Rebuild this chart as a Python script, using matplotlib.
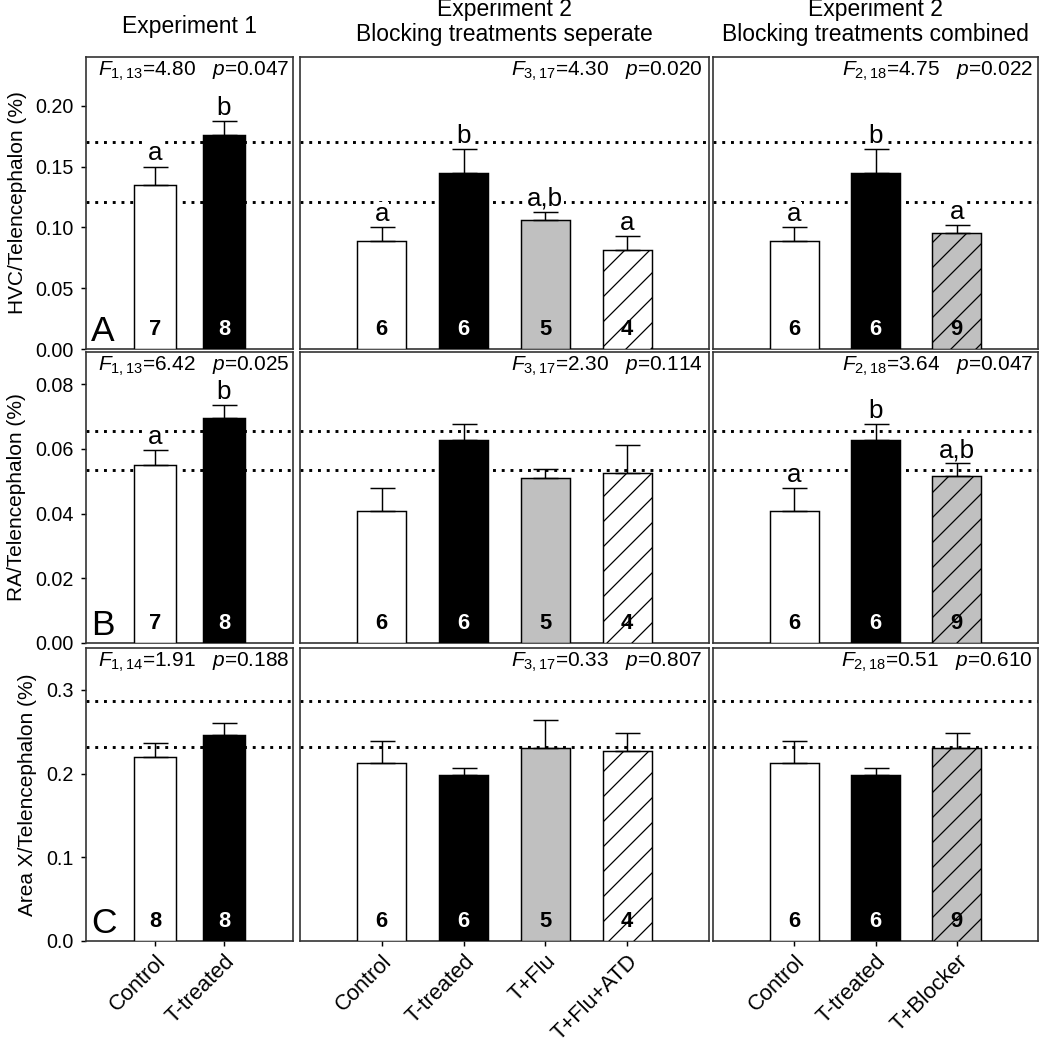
import numpy as np
import matplotlib
matplotlib.use("Agg")
import matplotlib.pyplot as plt
import matplotlib.transforms as mtransforms

plt.rcParams['font.family'] = 'Liberation Sans'
plt.rcParams['mathtext.fontset'] = 'custom'
plt.rcParams['mathtext.rm'] = 'Liberation Sans'
plt.rcParams['mathtext.it'] = 'Liberation Sans:italic'
plt.rcParams['hatch.linewidth'] = 0.6

# ---- groups (one list per column) ----
exp1_groups = ["Control", "T-treated"]
sep_groups = ["Control", "T-treated", "T+Flu", "T+Flu+ATD"]
comb_groups = ["Control", "T-treated", "T+Blocker"]

col_titles = [["Experiment 1"],
              ["Experiment 2", "Blocking treatments seperate"],
              ["Experiment 2", "Blocking treatments combined"]]

row_letters = ["A", "B", "C"]
row_ylabels = ["HVC/Telencephalon (%)", "RA/Telencephalon (%)",
               "Area X/Telencephalon (%)"]

# ---- HVC ----
hvc_exp1 = [0.135, 0.176]
hvc_exp1_se = [0.015, 0.011]
hvc_sep = [0.0885, 0.145, 0.106, 0.081]
hvc_sep_se = [0.0115, 0.019, 0.007, 0.012]
hvc_comb = [0.0885, 0.145, 0.095]
hvc_comb_se = [0.0115, 0.019, 0.007]
hvc_ref = [0.170, 0.121]

# ---- RA ----
ra_exp1 = [0.0552, 0.0697]
ra_exp1_se = [0.0044, 0.0040]
ra_sep = [0.0408, 0.0627, 0.0510, 0.0525]
ra_sep_se = [0.0070, 0.0050, 0.0027, 0.0086]
ra_comb = [0.0408, 0.0627, 0.0516]
ra_comb_se = [0.0070, 0.0050, 0.0040]
ra_ref = [0.0655, 0.0535]

# ---- Area X ----
x_exp1 = [0.220, 0.246]
x_exp1_se = [0.016, 0.015]
x_sep = [0.213, 0.198, 0.230, 0.227]
x_sep_se = [0.026, 0.009, 0.034, 0.022]
x_comb = [0.213, 0.198, 0.230]
x_comb_se = [0.026, 0.009, 0.019]
x_ref = [0.287, 0.232]

# ---- sample sizes ----
n_exp1 = [[7, 8], [7, 8], [8, 8]]
n_sep = [6, 6, 5, 4]
n_comb = [6, 6, 9]

# ---- post-hoc letters ----
hvc_letters = [["a", "b"], ["a", "b", "a,b", "a"], ["a", "b", "a"]]
ra_letters = [["a", "b"], [], ["a", "b", "a,b"]]
x_letters = [[], [], []]

# ---- ANOVA results ----
stats = [
    [(1, 13, "4.80", "0.047"), (3, 17, "4.30", "0.020"), (2, 18, "4.75", "0.022")],
    [(1, 13, "6.42", "0.025"), (3, 17, "2.30", "0.114"), (2, 18, "3.64", "0.047")],
    [(1, 14, "1.91", "0.188"), (3, 17, "0.33", "0.807"), (2, 18, "0.51", "0.610")],
]

# ---- bar styles ----
fills = {"Control": "white", "T-treated": "black", "T+Flu": "#c0c0c0",
         "T+Flu+ATD": "white", "T+Blocker": "#c0c0c0"}
hatches = {"T+Flu+ATD": "//", "T+Blocker": "//"}

groups = [exp1_groups, sep_groups, comb_groups]
values = [[hvc_exp1, hvc_sep, hvc_comb], [ra_exp1, ra_sep, ra_comb],
          [x_exp1, x_sep, x_comb]]
errors = [[hvc_exp1_se, hvc_sep_se, hvc_comb_se],
          [ra_exp1_se, ra_sep_se, ra_comb_se],
          [x_exp1_se, x_sep_se, x_comb_se]]
refs = [hvc_ref, ra_ref, x_ref]
letters = [hvc_letters, ra_letters, x_letters]
ns = [[n_exp1[r], n_sep, n_comb] for r in range(3)]

ylims = [0.24, 0.09, 0.35]
yticks = [np.arange(0, 0.201, 0.05), np.arange(0, 0.081, 0.02),
          np.arange(0, 0.31, 0.1)]
yfmt = ["%.2f", "%.2f", "%.1f"]

W, H = 1041, 1050
DPI = 150
fig = plt.figure(figsize=(W / DPI, H / DPI), dpi=DPI, facecolor="white")

col_px = [(86, 293), (300, 709), (713, 1038)]
row_px = [(57, 349), (352, 643), (648, 941)]

def draw_panel(ax, r, c):
    grp = groups[c]
    xs = np.arange(1, len(grp) + 1)
    vals = values[r][c]
    se = errors[r][c]
    for y in refs[r]:
        ax.axhline(y, color="black", linestyle=(0, (1, 2)), lw=1.4,
                   dash_capstyle="butt", zorder=1)
    ax.errorbar(xs, vals, yerr=[np.zeros(len(se)), se], fmt="none",
                ecolor="black", elinewidth=0.7, capsize=6.0, capthick=0.7,
                zorder=5)
    bars = ax.bar(xs, vals, width=0.6, color=[fills[g] for g in grp],
                  edgecolor="black", linewidth=0.7, zorder=3)
    for b, g in zip(bars, grp):
        if g in hatches:
            b.set_hatch(hatches[g])
    trans = mtransforms.blended_transform_factory(ax.transData, ax.transAxes)
    for x, g, n in zip(xs, grp, ns[r][c]):
        ax.text(x, 0.068, str(n), transform=trans, ha="center", va="center",
                fontsize=10.5, fontweight="bold",
                color="white" if fills[g] == "black" else "black", zorder=5)
    for x, v, s, lab in zip(xs, vals, se, letters[r][c]):
        ax.annotate(lab, (x, v + s), xytext=(0, 0.5),
                    textcoords="offset points", ha="center", va="bottom",
                    fontsize=12.5, zorder=4,
                    bbox=dict(facecolor="white", edgecolor="none", pad=0.1))
    d1, d2, fv, pv = stats[r][c]
    txt = r"$F_{\mathrm{%d,%d}}$=%s   $p$=%s" % (d1, d2, fv, pv)
    if c == 0:
        ax.text(0.52, 0.952, txt, transform=ax.transAxes, ha="center",
                va="center", fontsize=10)
    else:
        ax.text(0.985, 0.952, txt, transform=ax.transAxes, ha="right",
                va="center", fontsize=10)
    ax.set_xlim(0, len(grp) + 1)
    ax.set_ylim(0, ylims[r])
    for sp in ax.spines.values():
        sp.set_linewidth(0.8)
        sp.set_color("#333333")
    if c == 0:
        ax.set_yticks(yticks[r])
        ax.set_yticklabels([yfmt[r] % t for t in yticks[r]], fontsize=9.5)
        ax.tick_params(axis="y", direction="out", length=2.6, width=0.7)
        ax.set_ylabel(row_ylabels[r], fontsize=10, labelpad=4)
        ax.text(0.025, 0.005, row_letters[r], transform=ax.transAxes,
                ha="left", va="bottom", fontsize=17)
    else:
        ax.set_yticks([])
    if r == 2:
        ax.set_xticks(xs)
        ax.set_xticklabels(grp, rotation=45, ha="right",
                           rotation_mode="anchor", fontsize=10.5)
        ax.tick_params(axis="x", direction="out", length=2.6, width=0.7,
                       pad=2)
    else:
        ax.set_xticks([])

for r in range(3):
    for c in range(3):
        x0, x1 = col_px[c]
        y0, y1 = row_px[r]
        ax = fig.add_axes([x0 / W, 1 - y1 / H, (x1 - x0) / W, (y1 - y0) / H])
        draw_panel(ax, r, c)

# column headers
fig.text((86 + 293) / 2 / W, 1 - 33 / H, col_titles[0][0], ha="center",
         va="baseline", fontsize=11)
for c in (1, 2):
    xc = (col_px[c][0] + col_px[c][1]) / 2 / W
    fig.text(xc, 1 - 16 / H, col_titles[c][0], ha="center", va="baseline",
             fontsize=11)
    fig.text(xc, 1 - 41 / H, col_titles[c][1], ha="center", va="baseline",
             fontsize=11)

fig.savefig("out.png", dpi=DPI, facecolor="white")
